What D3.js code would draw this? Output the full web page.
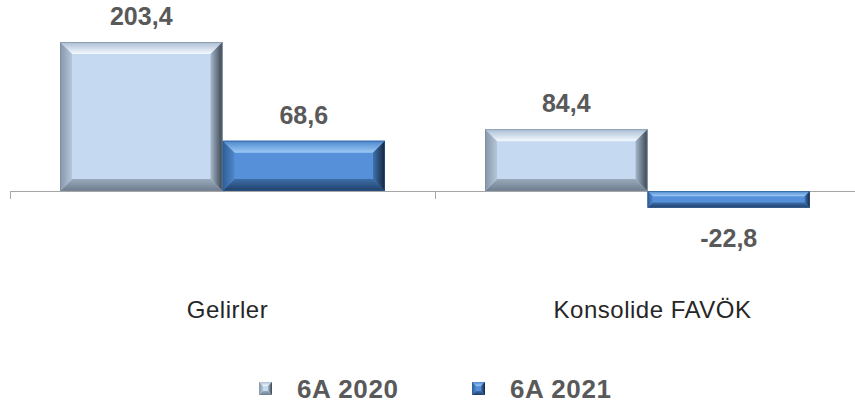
<!DOCTYPE html>
<html><head><meta charset="utf-8">
<script src="https://cdn.jsdelivr.net/npm/d3@7"></script>
<style>html,body{margin:0;padding:0;background:#fff;}svg{display:block;}</style>
</head><body><svg id="c" width="855" height="403"></svg>
<script>
const categories = ["Gelirler", "Konsolide FAVÖK"];
const seriesNames = ["6A 2020", "6A 2021"];
const values2020 = [203.4, 84.4];
const values2021 = [68.6, -22.8];
const valueLabels2020 = ["203,4", "84,4"];
const valueLabels2021 = ["68,6", "-22,8"];

const svg = d3.select("#c");

const x0 = d3.scaleBand().domain(categories).range([10, 860]).padding(0);
const x1 = d3.scaleBand().domain(seriesNames).range([0, x0.bandwidth()]).paddingInner(0).paddingOuter(0.3077);
const y = d3.scaleLinear().domain([0, 203.4]).range([191, 42]);

const data = [];
categories.forEach((c, i) => {
  data.push({cat: c, s: seriesNames[0], v: values2020[i], lab: valueLabels2020[i], si: 0});
  data.push({cat: c, s: seriesNames[1], v: values2021[i], lab: valueLabels2021[i], si: 1});
});

// gradients
const defs = svg.append("defs");
function lg(id, dir, stops) {
  const g = defs.append("linearGradient").attr("id", id);
  if (dir === "v") g.attr("x1", 0).attr("y1", 0).attr("x2", 0).attr("y2", 1);
  else g.attr("x1", 0).attr("y1", 0).attr("x2", 1).attr("y2", 0);
  stops.forEach(s => g.append("stop").attr("offset", s[0]).attr("stop-color", s[1]));
}
const pal = [
  { face: "#c5d9f1", top: ["#a9bdd3", "#f4f9ff"], bottom: ["#9aaabb", "#6e7d8d"], left: ["#8796a8", "#b4c6db"], right: ["#a6b8cc", "#39434e"], stroke: "#7a8999" },
  { face: "#5590d8", top: ["#4b86cc", "#9ccaf6"], bottom: ["#3d6da8", "#20406a"], left: ["#2f5d94", "#4e88cc"], right: ["#3f73b0", "#14243a"], stroke: "#2d5a8e" }
];
pal.forEach((p, i) => {
  lg("t" + i, "v", [[0, p.top[0]], [1, p.top[1]]]);
  lg("b" + i, "v", [[0, p.bottom[0]], [1, p.bottom[1]]]);
  lg("l" + i, "h", [[0, p.left[0]], [1, p.left[1]]]);
  lg("r" + i, "h", [[0, p.right[0]], [1, p.right[1]]]);
});

// axis
const axisG = svg.append("g").attr("transform", `translate(0,${y(0)})`);
axisG.call(d3.axisBottom(x0).tickSize(8).tickFormat(""));
axisG.select(".domain").attr("stroke", "#a6a6a6").attr("d", "M10,0.5H855");
axisG.selectAll(".tick").remove();
[10, 435].forEach(tx => axisG.append("line").attr("x1", tx + 0.5).attr("x2", tx + 0.5).attr("y1", 0).attr("y2", 8).attr("stroke", "#a6a6a6"));

// bars
const bars = svg.append("g").selectAll("g").data(data).join("g");
bars.each(function(d) {
  const g = d3.select(this);
  const xl = x0(d.cat) + x1(d.s), w = x1.bandwidth();
  const yt = Math.min(y(d.v), y(0)), yb = Math.max(y(d.v), y(0));
  const h = yb - yt;
  const b = Math.min(12, h / 3.2);
  const xr = xl + w;
  const poly = (pts, fill) => g.append("polygon").attr("points", pts.map(p => p.join(",")).join(" ")).attr("fill", fill);
  g.append("rect").attr("x", xl).attr("y", yt).attr("width", w).attr("height", h).attr("fill", pal[d.si].face);
  poly([[xl, yt], [xr, yt], [xr - b, yt + b], [xl + b, yt + b]], `url(#t${d.si})`);
  poly([[xl, yb], [xr, yb], [xr - b, yb - b], [xl + b, yb - b]], `url(#b${d.si})`);
  poly([[xl, yt], [xl + b, yt + b], [xl + b, yb - b], [xl, yb]], `url(#l${d.si})`);
  poly([[xr, yt], [xr - b, yt + b], [xr - b, yb - b], [xr, yb]], `url(#r${d.si})`);
  g.append("rect").attr("x", xl + 0.5).attr("y", yt + 0.5).attr("width", w - 1).attr("height", h - 1)
    .attr("fill", "none").attr("stroke", pal[d.si].stroke).attr("stroke-width", 1).attr("stroke-opacity", 0.6);
});

// value labels
svg.append("g").selectAll("text").data(data).join("text")
  .attr("x", d => x0(d.cat) + x1(d.s) + x1.bandwidth() / 2)
  .attr("y", d => d.v >= 0 ? y(d.v) - 17 : y(d.v) + 39)
  .attr("text-anchor", "middle")
  .attr("font-family", "'Liberation Sans', Arial, sans-serif")
  .attr("font-weight", "bold").attr("font-size", 25).attr("fill", "#595959")
  .text(d => d.lab);

// category labels
svg.append("g").selectAll("text").data(categories).join("text")
  .attr("x", d => x0(d) + x0.bandwidth() / 2 + 5)
  .attr("y", 318)
  .attr("text-anchor", "middle")
  .attr("font-family", "'Liberation Sans', Arial, sans-serif")
  .attr("font-size", 24).attr("letter-spacing", 0.5).attr("fill", "#262626")
  .text(d => d);

// legend
const legX = [259, 472];
const leg = svg.append("g").selectAll("g").data(seriesNames).join("g")
  .attr("transform", (d, i) => `translate(${legX[i]},0)`);
leg.each(function(d, i) {
  const g = d3.select(this);
  const s = 13, yt = 382, xl = 0, xr = s, yb = yt + s, b = 4;
  const poly = (pts, fill) => g.append("polygon").attr("points", pts.map(p => p.join(",")).join(" ")).attr("fill", fill);
  g.append("rect").attr("x", 0).attr("y", yt).attr("width", s).attr("height", s).attr("fill", pal[i].face);
  poly([[xl, yt], [xr, yt], [xr - b, yt + b], [xl + b, yt + b]], `url(#t${i})`);
  poly([[xl, yb], [xr, yb], [xr - b, yb - b], [xl + b, yb - b]], `url(#b${i})`);
  poly([[xl, yt], [xl + b, yt + b], [xl + b, yb - b], [xl, yb]], `url(#l${i})`);
  poly([[xr, yt], [xr - b, yt + b], [xr - b, yb - b], [xr, yb]], `url(#r${i})`);
  g.append("text").attr("x", 38).attr("y", 398)
    .attr("font-family", "'Liberation Sans', Arial, sans-serif")
    .attr("font-weight", "bold").attr("font-size", 26).attr("letter-spacing", 0.6).attr("fill", "#595959")
    .text(d);
});
</script></body></html>
